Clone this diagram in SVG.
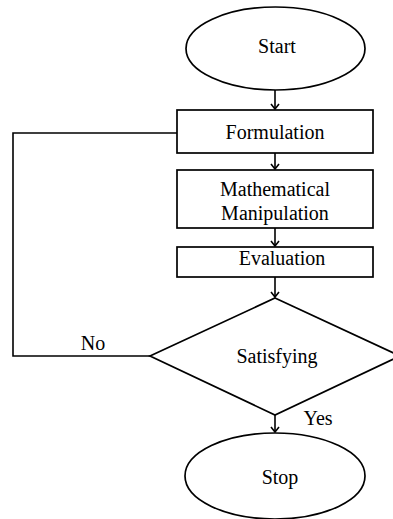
<svg xmlns="http://www.w3.org/2000/svg" width="393" height="519" viewBox="0 0 393 519">
<style>
.s{fill:#fff;stroke:#000;stroke-width:1.7}
.c{fill:none;stroke:#000;stroke-width:1.6}
.t{font-family:"Liberation Serif","Times New Roman",serif;font-size:20px;fill:#000;text-anchor:middle}
</style>
<defs>
<marker id="ah" viewBox="0 0 10 10" refX="9" refY="5" markerWidth="10" markerHeight="10" markerUnits="userSpaceOnUse" orient="auto">
<polyline points="4,1 9,5 4,9" fill="none" stroke="#000" stroke-width="1.6"/>
</marker>
</defs>
<rect width="393" height="519" fill="#fff"/>
<g id="connectors">
<line class="c" x1="275" y1="90" x2="275" y2="109" marker-end="url(#ah)"/>
<line class="c" x1="275" y1="153" x2="275" y2="169" marker-end="url(#ah)"/>
<line class="c" x1="275" y1="228" x2="275" y2="246" marker-end="url(#ah)"/>
<line class="c" x1="275" y1="277" x2="275" y2="297" marker-end="url(#ah)"/>
<line class="c" x1="275" y1="415" x2="275" y2="432" marker-end="url(#ah)"/>
<polyline class="c" points="150,356 13,356 13,133 177,133"/>
<text class="t" x="93" y="350">No</text>
<text class="t" x="318" y="425">Yes</text>
</g>
<g id="start">
<ellipse class="s" cx="275.5" cy="48.5" rx="89.5" ry="41.5"/>
<text class="t" x="277" y="53">Start</text>
</g>
<g id="formulation">
<rect class="s" x="177" y="110" width="196" height="43"/>
<text class="t" x="275" y="139">Formulation</text>
</g>
<g id="manipulation">
<rect class="s" x="177" y="170" width="196" height="58"/>
<text class="t" x="275" y="196">Mathematical</text>
<text class="t" x="275" y="220">Manipulation</text>
</g>
<g id="evaluation">
<rect class="s" x="177" y="247" width="196" height="30"/>
<text class="t" x="282" y="265">Evaluation</text>
</g>
<g id="satisfying">
<polygon class="s" points="275,298 400,356 275,415 150,356"/>
<text class="t" x="277" y="363">Satisfying</text>
</g>
<g id="stop">
<ellipse class="s" cx="275" cy="476" rx="90" ry="43"/>
<text class="t" x="280" y="484">Stop</text>
</g>
</svg>
